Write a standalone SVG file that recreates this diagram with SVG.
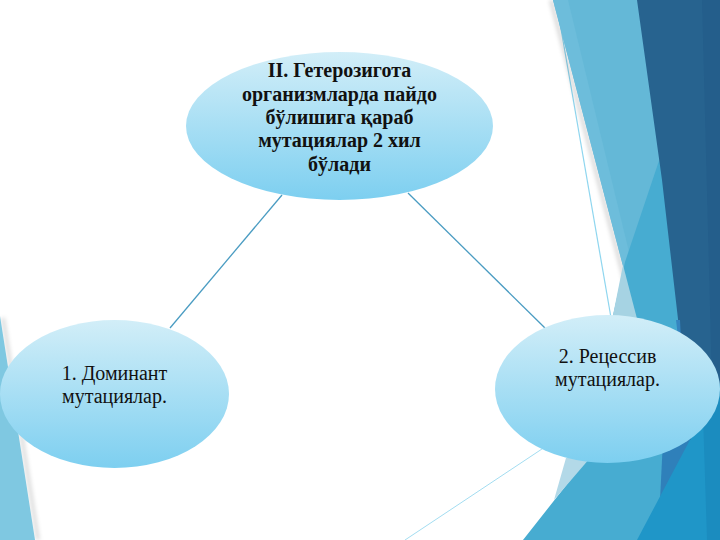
<svg xmlns="http://www.w3.org/2000/svg" width="720" height="540" viewBox="0 0 720 540">
  <defs>
    <linearGradient id="ovalFill" x1="0" y1="0" x2="0" y2="1">
      <stop offset="0" stop-color="#D2EEF8"/>
      <stop offset="1" stop-color="#7DCFF0"/>
    </linearGradient>
    <filter id="soft" x="-20%" y="-20%" width="140%" height="140%">
      <feGaussianBlur stdDeviation="2"/>
    </filter>
  </defs>
  <style>
    .oval { fill: url(#ovalFill); }
    .conn { stroke: #4A9CC2; stroke-width: 1.3; fill: none; }
    .lbl { font-family: "Liberation Serif", "Times New Roman", serif; fill: #111; text-anchor: middle; }
    .bold { font-weight: bold; font-size: 20px; }
    .reg { font-size: 20px; }
  </style>

  <rect x="0" y="0" width="720" height="540" fill="#FFFFFF"/>

  <g id="background">
    <!-- left strip -->
    <line x1="3" y1="318" x2="38" y2="540" stroke="#000" stroke-opacity="0.18" stroke-width="3" filter="url(#soft)"/>
    <polygon points="0,316 35,540 0,540" fill="#7FC8E1"/>
    <!-- thin lines -->
    <line x1="405" y1="540" x2="560" y2="437" stroke="#A3DDF1" stroke-width="1"/>
    <line x1="556" y1="0" x2="614" y2="335" stroke="#8FD6EF" stroke-width="1.2"/>
    <!-- shadow of light band -->
    <line x1="551" y1="0" x2="651" y2="380" stroke="#000" stroke-opacity="0.2" stroke-width="3" filter="url(#soft)"/>
    <!-- light band -->
    <polygon points="553,0 720,0 720,380 653,380" fill="#64B8D7"/>
    <polygon points="553,0 568,0 660,380 653,380" fill="#6DBDDB"/>
    <!-- medium -->
    <polygon points="713,0 720,0 720,540 523,540 590,455 612,320 625,262" fill="#47ACD1"/>
    <!-- pale wedge -->
    <polygon points="623,265 653,380 602,380 612,320" fill="#A6D3E3"/>
    <!-- mid blue -->
    <polygon points="664,420 720,420 720,540 658,540" fill="#2F80BA"/>
    <!-- bright triangle -->
    <polygon points="720,383 720,540 637,540" fill="#1F96C8"/>
    <polygon points="703,415 720,383 720,540 707,540" fill="#1B8CBF"/>
    <!-- navy -->
    <polygon points="637,0 720,0 720,383 690,440 681,345 662,180" fill="#27638F"/>
    <polygon points="702,0 720,0 720,383 712,383" fill="#245E8B"/>
    <polygon points="676,320 680,320 683,380 679,345" fill="#3585C0"/>
    <!-- bottom pale strip -->
    <polygon points="566,458 590,458 554,500" fill="#B3D9E8"/>
  </g>

  <g id="connectors">
    <line class="conn" x1="282" y1="195" x2="170" y2="328"/>
    <line class="conn" x1="408" y1="193" x2="545" y2="328"/>
  </g>

  <g id="node-top">
    <ellipse class="oval" cx="339.5" cy="126" rx="153.5" ry="74"/>
    <text class="lbl bold" x="339.5" y="77">II. Гетерозигота</text>
    <text class="lbl bold" x="339.5" y="100.5">организмларда пайдо</text>
    <text class="lbl bold" x="339.5" y="124">бўлишига қараб</text>
    <text class="lbl bold" x="339.5" y="147">мутациялар 2 хил</text>
    <text class="lbl bold" x="339.5" y="170.5">бўлади</text>
  </g>

  <g id="node-left">
    <ellipse class="oval" cx="114.5" cy="394" rx="114.5" ry="74"/>
    <text class="lbl reg" x="114.5" y="380">1. Доминант</text>
    <text class="lbl reg" x="114.5" y="403">мутациялар.</text>
  </g>

  <g id="node-right">
    <ellipse class="oval" cx="607.5" cy="389" rx="112.5" ry="74"/>
    <text class="lbl reg" x="607.5" y="363">2. Рецессив</text>
    <text class="lbl reg" x="607.5" y="386">мутациялар.</text>
  </g>
</svg>
